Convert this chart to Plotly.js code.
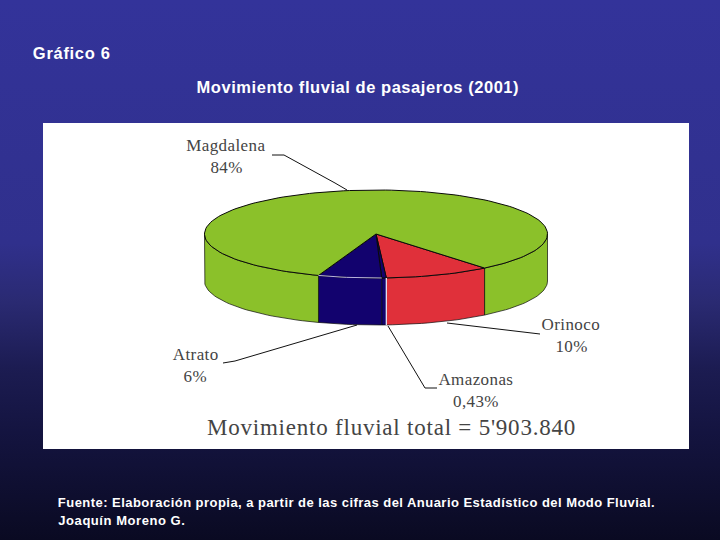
<!DOCTYPE html>
<html><head><meta charset="utf-8">
<script src="https://cdn.plot.ly/plotly-3.0.1.min.js"></script>
<style>html,body{margin:0;padding:0;width:720px;height:540px;overflow:hidden;background:linear-gradient(to bottom,#33339a 0%,#30308c 45%,#2a2a72 56%,#1c1c52 68%,#141440 80%,#0a0a22 100%);}</style>
</head><body><div id="chart" style="width:720px;height:540px"></div>
<script>
const categories = ["Orinoco", "Amazonas", "Atrato", "Magdalena"];
const shares = [10, 0.43, 6, 84];
const shareLabels = ["10%", "0,43%", "6%", "84%"];
const sliceColors = ["#e0303a", "#12026e", "#12026e", "#8bc12a"];

const cx = 376, cy = 234, rx = 171.5, ry = 44, depth = 47, startDeg = 50.7;
const total = shares.reduce((a, b) => a + b, 0);
const rad = d => d * Math.PI / 180;
function arc(a0, a1, dy) {
  const n = Math.max(2, Math.ceil(Math.abs(a1 - a0) / 2)), p = [];
  for (let i = 0; i <= n; i++) {
    const a = rad(a0 + (a1 - a0) * i / n);
    p.push([cx + rx * Math.cos(a), cy + dy + ry * Math.sin(a)]);
  }
  return p;
}
function trace(pts, color, lw) {
  return {type: "scatter", mode: "lines", x: pts.map(p => p[0]), y: pts.map(p => p[1]),
    fill: "toself", fillcolor: color, line: {color: "#0a0a0a", width: lw}, hoverinfo: "skip", showlegend: false};
}
function stroke(pts, color, lw) {
  return {type: "scatter", mode: "lines", x: pts.map(p => p[0]), y: pts.map(p => p[1]),
    line: {color, width: lw}, hoverinfo: "skip", showlegend: false};
}
const walls = [], tops = [], highlights = [];
let a = startDeg;
shares.forEach((v, i) => {
  const b = a + v / total * 360;
  tops.push(trace([[cx, cy], ...arc(a, b, 0), [cx, cy]], sliceColors[i], 1));
  [[a, b], [a - 360, b - 360]].forEach(([s, e]) => {
    const f0 = Math.max(s, 0), f1 = Math.min(e, 180);
    if (f1 > f0) walls.push(trace([...arc(f0, f1, 0), ...arc(f1, f0, depth)].concat([arc(f0, f0, 0)[0]]), sliceColors[i], 0.7));
  });
  if (categories[i] === "Amazonas") {
    highlights.push(stroke([arc(a, a, 0)[0], arc(a, a, depth)[0]], "#e6e2f6", 1.3));
  }
  if (categories[i] === "Atrato") {
    highlights.push(stroke(arc(a, b, 0), "#b9b3e0", 1));
  }
  a = b;
});

const labelPos = {Magdalena: [226, 156], Orinoco: [571, 335], Amazonas: [476, 390], Atrato: [195, 365]};
const ann = (text, x, y, size, color, family, bold, spacing) => ({text: bold ? "<b>" + text + "</b>" : text, x, y, xref: "x", yref: "y",
  xanchor: "center", yanchor: "middle", showarrow: false, font: {size, color, family}, spacing});
const serif = "Liberation Serif", sans = "Liberation Sans";
const annotations = [
  ann("Gráfico 6", 72, 53, 16.5, "#fff", sans, true, 0.7),
  ann("Movimiento fluvial de pasajeros (2001)", 358, 87, 16.5, "#fff", sans, true, 0.55),
  ann("Fuente: Elaboración propia, a partir de las cifras del Anuario Estadístico del Modo Fluvial.", 356.5, 502, 13, "#fff", sans, true, 0.46),
  ann("Joaquín Moreno G.", 121.5, 520, 13, "#fff", sans, true, 0.55),
  ann("Movimiento fluvial total = 5'903.840", 391.5, 427, 23, "#444", serif, false, 0.78)
];
categories.forEach((c, i) => {
  const [x, y] = labelPos[c];
  annotations.push(ann(c, x, y - 11, 17, "#444", serif, false, 0.4));
  annotations.push(ann(shareLabels[i], x, y + 11, 17, "#444", serif, false, 0.4));
});
const leader = path => ({type: "path", path, line: {color: "#111", width: 1}, layer: "above", xref: "x", yref: "y"});
const shapes = [
  {type: "rect", xref: "x", yref: "y", x0: 43, x1: 689, y0: 123, y1: 449, fillcolor: "#fff", line: {width: 0}, layer: "below"},
  leader("M272,155 L284,155 L335,183 L347,190"),
  leader("M447,323 L540,334"),
  leader("M223,363 L235,361 L357,325"),
  leader("M388,326 L425,388 L437,388")
];
const gd = document.getElementById("chart");
Plotly.newPlot(gd, [...walls, ...tops, ...highlights], {
  width: 720, height: 540, margin: {l: 0, r: 0, t: 0, b: 0},
  paper_bgcolor: "rgba(0,0,0,0)", plot_bgcolor: "rgba(0,0,0,0)", showlegend: false, hovermode: false,
  xaxis: {range: [0, 720], visible: false, fixedrange: true},
  yaxis: {range: [540, 0], visible: false, fixedrange: true},
  annotations, shapes
}, {displayModeBar: false, staticPlot: true}).then(() => {
  gd.querySelectorAll(".annotation-text").forEach((t, i) => {
    t.style.letterSpacing = annotations[i].spacing + "px";
  });
});
</script></body></html>
